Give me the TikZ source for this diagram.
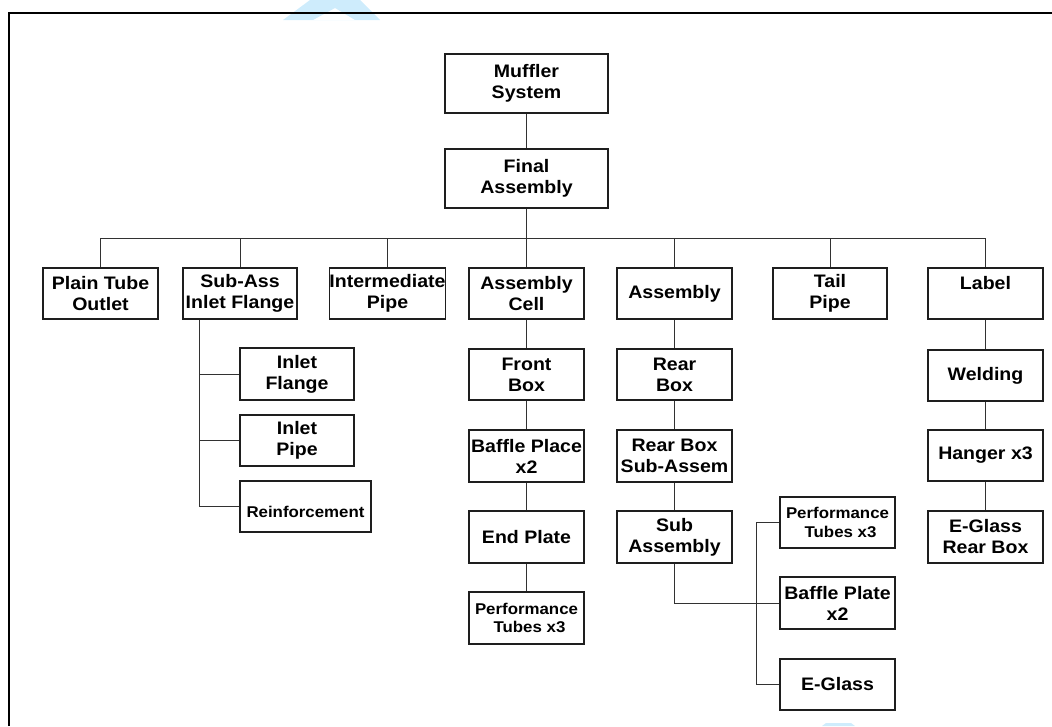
\documentclass[tikz,border=0pt]{standalone}
\usepackage{fontspec}
\setmainfont{Liberation Sans}[FakeStretch=1.08]
\definecolor{wm}{RGB}{206,236,252}
\definecolor{boxline}{RGB}{30,30,30}
\definecolor{conn}{RGB}{50,50,50}
\begin{document}
\begin{tikzpicture}[x=1pt,y=-1pt,
  box/.style={draw=boxline,line width=1.2pt,fill=white,inner sep=0pt,align=center,
    font=\bfseries\fontsize{18.1}{21}\selectfont,minimum width=115pt,minimum height=51pt},
  smallbox/.style={box,font=\bfseries\fontsize{15.6}{18.3}\selectfont},
  conn/.style={draw=conn,line width=1pt}]
\useasboundingbox (0,0) rectangle (1052,726);
% watermark fragments
\fill[wm,even odd rule] (283,20) -- (310,0) -- (360,0) -- (380,20) -- cycle
  (313,20) -- (335,8) -- (355,20) -- cycle;
\fill[wm] (822,726) -- (826,723) -- (851,723) -- (855,726) -- cycle;
% frame
\draw[line width=2pt,black] (9,726) -- (9,13) -- (1052,13);
% top
\node[box,minimum width=163pt,minimum height=59pt] (muffler) at (526.5,83.5) {Muffler\\System};
\node[box,minimum width=163pt,minimum height=59pt] (final) at (526.5,178.5) {Final\\Assembly};
% level 2
\node[box] (plain) at (100.5,293.5) {Plain Tube\\Outlet};
\node[box,minimum width=114pt] (subass) at (240,293.5) {Sub-Ass\\Inlet Flange};
\node[box] (inter) at (387.5,293.5) {Intermediate\\Pipe};
\node[box] (cell) at (526.5,293.5) {Assembly\\Cell};
\node[box] (assy) at (674.5,293.5) {Assembly};
\node[box,minimum width=114pt] (tail) at (830,293.5) {Tail\\Pipe};
\node[box] (label) at (985.5,293.5) {Label\\~};
% sub-ass children
\node[box,minimum width=114pt,minimum height=52pt] (inletfl) at (297,374) {Inlet\\Flange};
\node[box,minimum width=114pt] (inletpipe) at (297,440.5) {Inlet\\Pipe};
\node[smallbox,minimum width=131pt] (reinf) at (305.5,506.5) {\raisebox{-5.5pt}[\height][\depth]{Reinforcement}};
% assembly cell column
\node[box] (front) at (526.5,374.5) {Front\\Box};
\node[box,minimum height=52pt] (bafflep) at (526.5,456) {Baffle Place\\x2};
\node[box,minimum height=52pt] (endp) at (526.5,537) {End Plate};
\node[smallbox,minimum height=52pt] (perf1) at (526.5,618) {Performance\\\hspace*{6pt}Tubes x3};
% assembly column
\node[box] (rear) at (674.5,374.5) {Rear\\Box};
\node[box,minimum height=52pt] (rearsub) at (674.5,456) {Rear Box\\Sub-Assem};
\node[box,minimum height=52pt] (subassy) at (674.5,537) {Sub\\Assembly};
% right column
\node[smallbox] (perf2) at (837.5,522.5) {Performance\\\hspace*{6pt}Tubes x3};
\node[box,minimum height=52pt] (baffle2) at (837.5,603) {Baffle Plate\\x2};
\node[box] (eglass) at (837.5,684.5) {E-Glass};
% label column
\node[box] (weld) at (985.5,375.5) {Welding};
\node[box] (hanger) at (985.5,455.5) {Hanger x3};
\node[box,minimum height=52pt] (eglassrb) at (985.5,537) {E-Glass\\Rear Box};
% coordinates
\coordinate (bus) at (0,238);
\coordinate (sv) at (199,0);
\coordinate (rv) at (756,0);
% connectors
\draw[conn] (muffler) -- (final);
\draw[conn] (final.south) -- (final.south |- bus);
\draw[conn] (plain.north |- bus) -- (label.north |- bus);
\foreach \n in {plain,subass,inter,cell,assy,tail,label}
  \draw[conn] (\n.north |- bus) -- (\n.north);
\draw[conn] (subass.south -| sv) -- (reinf.west -| sv) -- (reinf.west);
\draw[conn] (inletfl.west -| sv) -- (inletfl.west);
\draw[conn] (inletpipe.west -| sv) -- (inletpipe.west);
\draw[conn] (cell) -- (front);
\draw[conn] (front) -- (bafflep);
\draw[conn] (bafflep) -- (endp);
\draw[conn] (endp) -- (perf1);
\draw[conn] (assy) -- (rear);
\draw[conn] (rear) -- (rearsub);
\draw[conn] (rearsub) -- (subassy);
\draw[conn] (subassy.south) |- (baffle2.west);
\draw[conn] (perf2.west) -- (perf2.west -| rv) -- (eglass.west -| rv) -- (eglass.west);
\draw[conn] (label) -- (weld);
\draw[conn] (weld) -- (hanger);
\draw[conn] (hanger) -- (eglassrb);
\end{tikzpicture}
\end{document}
